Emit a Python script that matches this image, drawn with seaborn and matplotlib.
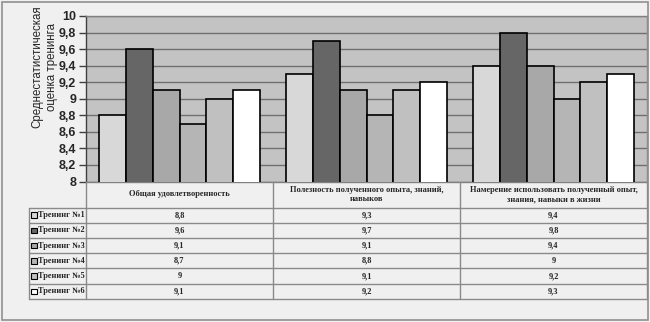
import numpy as np
import pandas as pd
import matplotlib
matplotlib.use("Agg")
import matplotlib.pyplot as plt
from matplotlib.patches import Rectangle
from matplotlib.lines import Line2D
import seaborn as sns

# Data
categories = [
    "Общая удовлетворенность",
    "Полезность полученного опыта, знаний,\nнавыков",
    "Намерение использовать полученный опыт,\nзнания, навыки в жизни",
]
series = ["Тренинг №1", "Тренинг №2", "Тренинг №3", "Тренинг №4", "Тренинг №5", "Тренинг №6"]
training1 = [8.8, 9.3, 9.4]
training2 = [9.6, 9.7, 9.8]
training3 = [9.1, 9.1, 9.4]
training4 = [8.7, 8.8, 9.0]
training5 = [9.0, 9.1, 9.2]
training6 = [9.1, 9.2, 9.3]
values = [training1, training2, training3, training4, training5, training6]
y_ticks = [8, 8.2, 8.4, 8.6, 8.8, 9, 9.2, 9.4, 9.6, 9.8, 10]

colors = ["#d8d8d8", "#666666", "#a8a8a8", "#b5b5b5", "#c0c0c0", "#ffffff"]

rows = []
for s, vals in zip(series, values):
    for c, v in zip(categories, vals):
        rows.append({"category": c, "series": s, "value": v})
df = pd.DataFrame(rows)

sns.set_style("white")
plt.rcParams["font.family"] = ["Liberation Sans", "DejaVu Sans"]

W, H = 650, 322
fig = plt.figure(figsize=(W / 100, H / 100), dpi=100)
fig.patch.set_facecolor("#f0f0f0")


def fx(px):
    return px / W


def fy(py):
    return 1 - py / H


# Outer frame
fig.add_artist(Rectangle((fx(2), fy(320)), fx(646), 318 / H, transform=fig.transFigure,
                         fill=False, edgecolor="#909090", linewidth=1.2))

left, right, top, bottom = 86, 647, 16, 181.5
ax = fig.add_axes([fx(left), fy(bottom), fx(right - left), (bottom - top) / H])
ax.set_facecolor("#c3c3c3")

sns.barplot(data=df, x="category", y="value", hue="series", palette=colors,
            width=0.865, edgecolor="black", linewidth=1.2, saturation=1,
            ax=ax, legend=False, zorder=3)

ax.set_ylim(8, 10)
ax.set_xlim(-0.5, 2.5)
ax.set_yticks(y_ticks)
ax.set_yticklabels([f"{t:g}".replace(".", ",") for t in y_ticks], fontsize=9, fontweight="bold")
ax.set_xticks([])
ax.set_xlabel("")
ax.set_ylabel("")
ax.grid(axis="y", color="#707070", linewidth=1, zorder=0)
ax.set_axisbelow(True)
ax.tick_params(axis="y", length=5, width=1, color="#404040", pad=2, left=True)
for side, sp in ax.spines.items():
    sp.set_color("#808080")
    sp.set_linewidth(1)
ax.spines["left"].set_color("#404040")

fig.text(fx(45), fy(67), "Среднестатистическая\nоценка тренинга", rotation=90,
         ha="center", va="center", fontsize=8.3, linespacing=1.25)

# Data table below the plot
line_kw = dict(color="#8a8a8a", linewidth=1, transform=fig.transFigure)
row_y = [207.5, 222.7, 238.0, 253.2, 268.4, 283.6, 298.8]
col_x = [86, 273, 460, 647]
tab_left = 29

for yv in row_y:
    fig.add_artist(Line2D([fx(tab_left), fx(647)], [fy(yv), fy(yv)], **line_kw))
for xv in col_x:
    fig.add_artist(Line2D([fx(xv), fx(xv)], [fy(bottom), fy(row_y[-1])], **line_kw))
fig.add_artist(Line2D([fx(tab_left), fx(tab_left)], [fy(row_y[0]), fy(row_y[-1])], **line_kw))

serif = ["Liberation Serif", "DejaVu Serif"]
for i, c in enumerate(categories):
    cx = (col_x[i] + col_x[i + 1]) / 2
    fig.text(fx(cx), fy(194.5), c, ha="center", va="center", fontsize=6,
             fontweight="bold", family=serif, linespacing=1.3)

for r, (s, vals) in enumerate(zip(series, values)):
    cy = (row_y[r] + row_y[r + 1]) / 2
    fig.add_artist(Rectangle((fx(31), fy(cy + 2.8)), fx(5.5), 5.5 / H, transform=fig.transFigure,
                             facecolor=colors[r], edgecolor="black", linewidth=0.8))
    fig.text(fx(38), fy(cy), s, ha="left", va="center", fontsize=6,
             fontweight="bold", family=serif)
    for i, v in enumerate(vals):
        cx = (col_x[i] + col_x[i + 1]) / 2
        fig.text(fx(cx), fy(cy), f"{v:g}".replace(".", ","), ha="center", va="center",
                 fontsize=6, fontweight="bold", family=serif)

fig.savefig("out.png", dpi=100, facecolor=fig.get_facecolor())
